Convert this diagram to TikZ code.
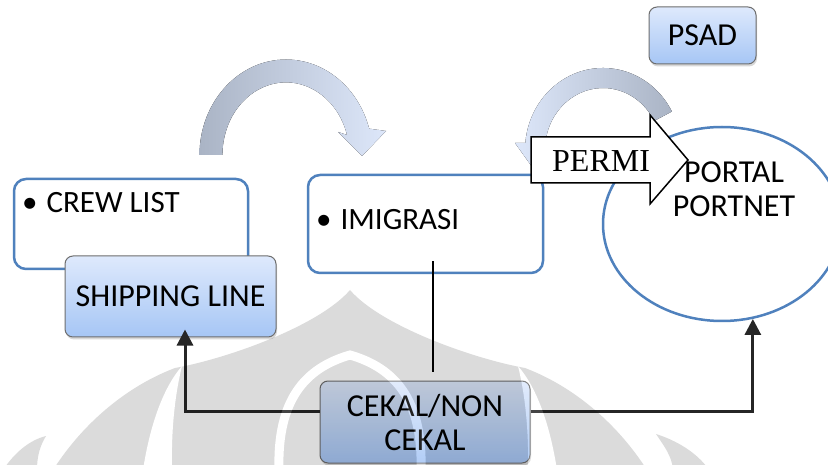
\documentclass[tikz,border=0pt]{standalone}
\usepackage{fontspec}
\setmainfont{Carlito}
\newfontfamily\permifont{Liberation Serif}
\usetikzlibrary{arrows.meta,shapes.geometric,calc,shadows}

\definecolor{boxblue}{RGB}{79,129,189}
\definecolor{lighttop}{RGB}{222,233,252}
\definecolor{lightbot}{RGB}{166,198,245}
\definecolor{edgegrey}{RGB}{110,110,110}
\definecolor{linedark}{RGB}{38,38,38}
\definecolor{arcgrey}{RGB}{170,180,197}
\definecolor{arclight}{RGB}{221,231,250}

\newcommand\labelfont{\fontsize{32}{34}\selectfont}
\newcommand\itemfont{\fontsize{31}{34}\selectfont}

\begin{document}
\begin{tikzpicture}[x=1pt, y=-1pt,
  bluebox/.style={draw=boxblue, line width=2.5pt, rounded corners=12pt,
    fill=white, inner sep=0pt},
  gradbox/.style={draw=edgegrey, line width=1pt, rounded corners=8pt,
    top color=lighttop, bottom color=lightbot, inner sep=0pt,
    drop shadow={shadow xshift=1pt, shadow yshift=-2.5pt, opacity=0.3},
    font=\labelfont, align=center},
  itemtext/.style={anchor=base west, font=\itemfont, inner sep=0pt},
  conn/.style={draw=linedark, line width=3pt,
    -{Triangle[length=16pt,width=16pt]}},
  thinlink/.style={draw=black, line width=1.5pt}]

\useasboundingbox (0,0) rectangle (828,465);
\fill[white] (0,0) rectangle (828,465);

% curved arrow from CREW LIST towards IMIGRASI
\fill[left color=arcgrey, right color=arclight]
  (199.5,155) arc[start angle=180, end angle=344, x radius=86.5, y radius=95.5]
  -- (386,131) -- (362,156) -- (338,132) -- (347,134.9)
  arc[start angle=344, end angle=180, x radius=63.5, y radius=72.5] -- cycle;

% curved arrow coming back down behind PERMI
\fill[left color=arclight, right color=arcgrey]
  (654.2,120.9) -- (671.9,111.5)
  arc[start angle=332, end angle=185, x radius=78, y radius=82]
  -- (515,143) -- (535,171) -- (556,143) -- (545.2,144.6)
  arc[start angle=185, end angle=332, x radius=58, y radius=62] -- cycle;

% boxes
\node[bluebox, minimum width=234pt, minimum height=90pt] (crew) at (131,224) {};
\node[itemtext] (crewtxt) at (22,213) {\textbullet\hspace{9pt}CREW LIST};
\node[gradbox, minimum width=211pt, minimum height=81pt] (ship) at (170.5,296.5) {SHIPPING LINE};
\node[bluebox, minimum width=235pt, minimum height=98pt] (imig) at (425.5,224) {};
\node[itemtext] (imigtxt) at (316,230) {\textbullet\hspace{9pt}IMIGRASI};
\node[draw=boxblue, line width=2.5pt, ellipse, fill=white, inner sep=0pt,
  minimum width=238pt, minimum height=194pt] (portal) at (722,224) {};

% PERMI block arrow
\draw[line width=1.5pt, fill=white]
  (531,137) -- (650,137) -- (650,115) -- (688,160) -- (650,204)
  -- (650,183) -- (531,183) -- cycle;
\node[anchor=base west, inner sep=0pt, font=\permifont\fontsize{32}{34}\selectfont]
  (permi) at (552,172) {PERMI};
\node[font=\labelfont, align=center, inner sep=0pt] (portaltxt) at (734,189.5) {PORTAL\\PORTNET};

\node[gradbox, minimum width=107pt, minimum height=57pt] (psad) at (702.5,35.5) {PSAD};
\node[gradbox, minimum width=210pt, minimum height=82pt] (cekal) at (425,422) {CEKAL/NON\\CEKAL};

% connectors
\draw[thinlink] ($(imig.south)+(7.5,-13)$) -- ($(cekal.north)+(8,-9)$);
\draw[conn] ($(cekal.west)+(0,-11)$) -| ($(ship.south)+(14.5,-8)$);
\draw[conn] ($(cekal.east)+(0,-11)$) -| (portal.-72);

% faint emblem laid over the lower part
\begin{scope}[transparency group, opacity=0.14]
  \fill[black] (53,470) .. controls (85,420) and (130,385) .. (175,368)
    .. controls (230,358) and (320,325) .. (350,290)
    .. controls (380,325) and (470,358) .. (525,368)
    .. controls (570,385) and (615,420) .. (647,470) -- cycle;
  \fill[black] (3,470) .. controls (15,452) and (30,440) .. (46,436)
    .. controls (40,446) and (37,456) .. (37,470) -- cycle;
  \fill[black] (709,470) .. controls (697,452) and (675,440) .. (656,434)
    .. controls (664,446) and (672,456) .. (673,470) -- cycle;
  \fill[white] (143,470) .. controls (150,425) and (163,388) .. (182,366)
    .. controls (176,390) and (171,425) .. (172,470) -- cycle;
  \fill[white] (557,470) .. controls (550,425) and (537,388) .. (518,366)
    .. controls (524,390) and (529,425) .. (528,470) -- cycle;
  \draw[white, line width=9pt] (279,470) .. controls (277,400) and (305,368) .. (350,355)
    .. controls (395,368) and (423,400) .. (421,470);
\end{scope}
\end{tikzpicture}
\end{document}
